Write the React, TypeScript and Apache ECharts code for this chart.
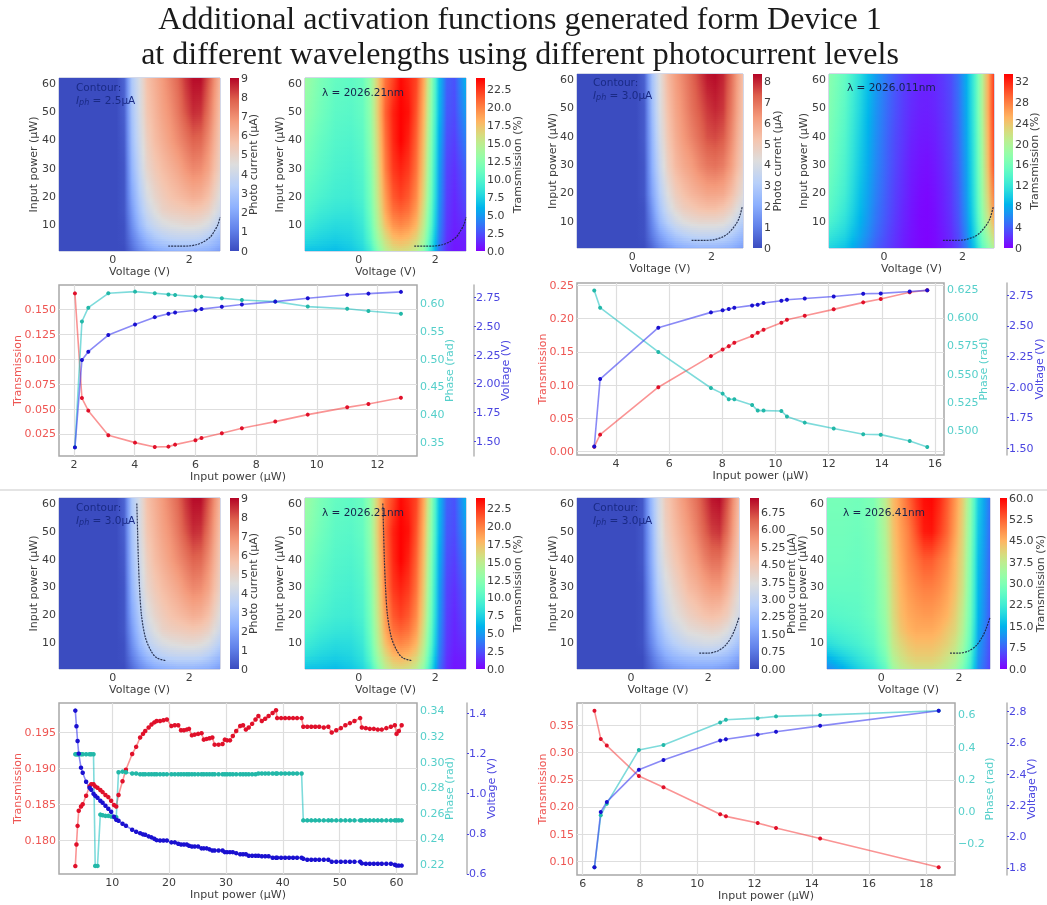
import React, { useEffect, useRef } from "react";
import * as echarts from "echarts";

// ---------- shared heat-map lattice ----------
const voltageColumns = [-1.4, -1.0, -0.6, -0.2, 0.1, 0.3, 0.5, 0.7, 0.9, 1.1, 1.3, 1.5, 1.7, 1.9, 2.1, 2.3, 2.5, 2.8];
const powerRows = [0.5, 5, 10, 15, 20, 30, 40, 50, 62];

const photoA = [
  [0, 0, 0, 0, 0, 0, 0.6, 1.2, 1.6, 1.9, 2.1, 2.2, 2.3, 2.3, 2.3, 2.2, 2.1, 1.7],
  [0, 0, 0, 0, 0, 0.1, 1, 1.8, 2.5, 3, 3.3, 3.5, 3.6, 3.6, 3.6, 3.5, 3.2, 2.5],
  [0, 0, 0, 0, 0, 0.1, 1.4, 2.5, 3.4, 3.9, 4.3, 4.5, 4.6, 4.7, 4.7, 4.6, 4.3, 3.4],
  [0, 0, 0, 0, 0, 0.2, 1.7, 2.9, 3.9, 4.5, 5, 5.2, 5.3, 5.4, 5.5, 5.4, 5.1, 4.1],
  [0, 0, 0, 0, 0, 0.2, 2, 3.2, 4.3, 4.9, 5.3, 5.6, 5.8, 6, 6.2, 6.1, 5.7, 4.5],
  [0, 0, 0, 0, 0, 0.2, 2.4, 3.7, 4.9, 5.4, 5.8, 6.1, 6.4, 6.8, 7.1, 7, 6.5, 5.1],
  [0, 0, 0, 0, 0, 0.3, 2.7, 4, 5.2, 5.8, 6.2, 6.6, 7, 7.4, 7.8, 7.7, 7, 5.4],
  [0, 0, 0, 0, 0, 0.4, 2.9, 4.2, 5.5, 6, 6.5, 6.9, 7.4, 8, 8.5, 8.4, 7.5, 5.7],
  [0, 0, 0, 0, 0, 0.5, 3.1, 4.3, 5.7, 6.2, 6.7, 7.2, 7.7, 8.4, 8.9, 8.9, 8, 6],
];
const transA = [
  [6.5, 6.5, 6.3, 6.8, 7.6, 9, 12, 14.5, 15.7, 16, 15.7, 14.8, 12.5, 8, 3.5, 1.3, 0.6, 0.8],
  [8, 7.5, 7.2, 7.5, 8.3, 10.2, 13.5, 16, 17.6, 18, 17.6, 16.5, 14, 9, 4, 1.5, 0.8, 1],
  [9, 8.3, 7.9, 8, 8.8, 10.8, 14.5, 17.5, 19.3, 19.8, 19.3, 18, 15, 10, 4.4, 1.7, 1, 1.5],
  [9.8, 9, 8.6, 8.5, 9.2, 11.3, 15, 18.5, 20.5, 21, 20.5, 19, 15.7, 10.5, 4.7, 1.8, 1.1, 2],
  [10.3, 9.6, 9.1, 9, 9.6, 11.6, 15.5, 19, 21.3, 22, 21.3, 19.7, 16.3, 11, 5, 1.9, 1.2, 2.4],
  [11.2, 10.3, 9.6, 9.4, 10, 12, 16, 20, 22.3, 23, 22.3, 20.5, 17, 11.5, 5.3, 2.1, 1.5, 3],
  [12, 10.8, 10, 9.8, 10.4, 12.5, 16.5, 20.5, 22.8, 24, 23, 21, 17.5, 12, 5.8, 2.4, 1.9, 4],
  [12.8, 11.4, 10.4, 10.2, 10.8, 12.8, 17, 21, 23, 24, 23.5, 21.5, 18, 12.5, 6.3, 2.7, 2.3, 5],
  [13.5, 11.8, 10.8, 10.5, 11, 13, 17, 20.5, 22, 23.8, 23, 22, 18.5, 13, 6.5, 3, 2.5, 6],
];
const photoB = [
  [0, 0, 0, 0, 0, 0, 0.5, 1.1, 1.5, 1.8, 2, 2.1, 2.2, 2.2, 2.2, 2.1, 2, 1.6],
  [0, 0, 0, 0, 0, 0.1, 0.9, 1.7, 2.3, 2.8, 3.1, 3.3, 3.4, 3.4, 3.4, 3.3, 3, 2.3],
  [0, 0, 0, 0, 0, 0.1, 1.2, 2.4, 3.2, 3.8, 4.2, 4.4, 4.5, 4.5, 4.5, 4.4, 4, 3.1],
  [0, 0, 0, 0, 0, 0.1, 1.5, 2.8, 3.8, 4.5, 4.9, 5.1, 5.3, 5.4, 5.4, 5.2, 4.8, 3.8],
  [0, 0, 0, 0, 0, 0.2, 1.8, 3.1, 4.2, 4.9, 5.3, 5.6, 5.8, 6, 6, 5.9, 5.4, 4.3],
  [0, 0, 0, 0, 0, 0.2, 2.1, 3.6, 4.8, 5.5, 5.9, 6.2, 6.6, 6.9, 7, 6.8, 6.2, 4.8],
  [0, 0, 0, 0, 0, 0.3, 2.3, 3.9, 5.1, 5.8, 6.3, 6.7, 7.1, 7.5, 7.6, 7.4, 6.6, 5],
  [0, 0, 0, 0, 0, 0.3, 2.5, 4.1, 5.3, 6, 6.5, 7, 7.4, 7.8, 8, 7.8, 6.9, 5.2],
  [0, 0, 0, 0, 0, 0.4, 2.7, 4.2, 5.5, 6.2, 6.7, 7.2, 7.7, 8.2, 8.3, 8, 7.1, 5.3],
];
const transB = [
  [10.5, 9.2, 6.6, 4, 2.7, 1.9, 1.2, 0.6, 0.2, 0.1, 0.3, 0.9, 1.6, 2.9, 5.4, 9.3, 14.5, 20],
  [12, 10.5, 7.5, 4.6, 3, 2.1, 1.3, 0.7, 0.3, 0.1, 0.4, 1, 1.8, 3.2, 6, 10.3, 16, 22.5],
  [13.5, 11.5, 8.2, 5, 3.3, 2.3, 1.5, 0.8, 0.3, 0.2, 0.5, 1.2, 2, 3.6, 6.5, 11, 17.3, 25],
  [14.5, 12.2, 8.7, 5.3, 3.5, 2.5, 1.6, 0.9, 0.4, 0.2, 0.6, 1.3, 2.2, 3.8, 6.8, 11.5, 18, 27],
  [15, 12.8, 9, 5.6, 3.7, 2.6, 1.8, 1, 0.5, 0.3, 0.7, 1.4, 2.3, 4, 7, 11.8, 18.5, 28],
  [16, 13.5, 9.6, 6, 4, 2.9, 2, 1.2, 0.8, 0.6, 1, 1.7, 2.6, 4.3, 7.3, 12.2, 19, 30],
  [16.5, 14, 10, 6.3, 4.2, 3.1, 2.3, 1.5, 1.1, 1, 1.3, 2, 2.8, 4.6, 7.6, 12.5, 19.5, 30.5],
  [17, 14.5, 10.5, 6.6, 4.5, 3.4, 2.5, 1.8, 1.4, 1.3, 1.6, 2.2, 3, 4.8, 7.8, 12.8, 20, 31],
  [17.5, 15, 11, 7, 4.8, 3.6, 2.7, 2, 1.6, 1.5, 1.8, 2.4, 3.2, 5, 8, 13, 20, 31],
];
const photoC = [
  [0, 0, 0, 0, 0, 0, 0.4, 0.8, 1.1, 1.3, 1.4, 1.5, 1.5, 1.5, 1.5, 1.4, 1.3, 1],
  [0, 0, 0, 0, 0, 0, 0.6, 1.2, 1.7, 2, 2.2, 2.3, 2.4, 2.4, 2.4, 2.3, 2.1, 1.6],
  [0, 0, 0, 0, 0, 0.1, 0.9, 1.7, 2.3, 2.7, 3, 3.2, 3.3, 3.4, 3.4, 3.3, 3, 2.3],
  [0, 0, 0, 0, 0, 0.1, 1.1, 2, 2.7, 3.2, 3.5, 3.8, 3.9, 4, 4.1, 4, 3.7, 2.9],
  [0, 0, 0, 0, 0, 0.1, 1.2, 2.3, 3.1, 3.6, 3.9, 4.2, 4.4, 4.6, 4.7, 4.6, 4.3, 3.4],
  [0, 0, 0, 0, 0, 0.1, 1.4, 2.7, 3.5, 4, 4.4, 4.8, 5, 5.3, 5.5, 5.5, 5, 3.9],
  [0, 0, 0, 0, 0, 0.2, 1.6, 3, 3.9, 4.4, 4.8, 5.2, 5.5, 5.9, 6.2, 6.2, 5.6, 4.3],
  [0, 0, 0, 0, 0, 0.2, 1.7, 3.2, 4.2, 4.7, 5.1, 5.5, 5.9, 6.4, 6.8, 6.9, 6.2, 4.6],
  [0, 0, 0, 0, 0, 0.2, 1.9, 3.3, 4.4, 4.9, 5.4, 5.8, 6.2, 6.7, 7.2, 7.3, 6.6, 4.8],
];
const transC = [
  [10, 14, 18, 21.5, 26, 33, 36.5, 38, 39, 39, 39, 38, 36.5, 34, 29, 22, 11, 5],
  [15, 18, 21, 24, 29, 36, 39, 41, 42, 42, 42, 41, 39, 37, 32, 24, 12, 5.5],
  [20, 22, 23.5, 26, 31, 38, 41, 43, 44, 44, 44, 43, 41.5, 39, 34, 26, 13, 6],
  [23, 24, 25, 27, 32, 39, 43, 45, 46, 46, 46, 45, 43, 41, 36, 27, 14, 6.5],
  [25, 25.5, 26, 28, 33, 40, 44, 46, 47, 47.5, 47.5, 46.5, 45, 42, 37, 28, 15, 7],
  [27, 27, 27, 28.5, 34, 41, 45, 47.5, 49, 50, 50, 49, 47, 44, 39, 29, 15.5, 7.5],
  [28, 28, 27.5, 29, 35, 42, 46, 49, 51, 53, 53, 51, 49, 45, 40, 30, 16, 8],
  [28.5, 28.5, 28, 29.5, 36, 43, 47, 50, 54, 58, 58.5, 55.5, 52, 47, 41, 31, 17, 8.5],
  [29, 29, 28.5, 30, 37, 44, 48, 52, 56, 59, 59.5, 57, 53, 48, 42, 32, 18, 9],
];

// ---------- dashed contours: [voltage, power] ----------
const contourA = [[1.45, 2.2], [1.75, 2.2], [2.0, 2.3], [2.2, 2.8], [2.4, 4], [2.55, 5.5], [2.65, 7.5], [2.75, 10], [2.8, 12.5]];
const contourB = [[1.5, 3.2], [1.8, 3.2], [2.05, 3.4], [2.3, 4.5], [2.45, 6], [2.6, 8.5], [2.7, 11], [2.78, 15]];
const contourC = [[0.63, 60], [0.65, 50], [0.67, 40], [0.7, 30], [0.75, 20], [0.85, 12], [1.0, 7], [1.15, 4.5], [1.4, 3.5]];
const contourD = [[1.77, 6.2], [2.0, 6.2], [2.25, 7], [2.45, 9], [2.6, 12], [2.7, 15], [2.8, 19]];

// ---------- line panels ----------
const l1Power = [2.03, 2.26, 2.47, 3.13, 4.01, 4.66, 5.11, 5.33, 6.0, 6.2, 6.87, 7.53, 8.63, 9.7, 11.0, 11.7, 12.77];
const l1Trans = [0.166, 0.061, 0.0484, 0.0237, 0.0163, 0.012, 0.0123, 0.0143, 0.0187, 0.021, 0.0257, 0.0307, 0.0374, 0.0444, 0.0517, 0.055, 0.0614];
const l1Phase = [0.341, 0.568, 0.593, 0.619, 0.622, 0.619, 0.617, 0.616, 0.613, 0.613, 0.61, 0.607, 0.604, 0.595, 0.591, 0.587, 0.582];
const l1Volt = [1.445, 2.206, 2.279, 2.424, 2.515, 2.58, 2.61, 2.62, 2.64, 2.65, 2.67, 2.69, 2.715, 2.745, 2.775, 2.785, 2.8];

const l2Power = [3.18, 3.4, 5.59, 7.57, 8.01, 8.24, 8.45, 9.12, 9.33, 9.55, 10.22, 10.43, 11.1, 12.19, 13.3, 13.96, 15.05, 15.71];
const l2Trans = [0.0075, 0.0256, 0.0969, 0.1436, 0.1536, 0.1586, 0.1636, 0.1737, 0.1787, 0.1832, 0.1938, 0.1983, 0.2043, 0.2139, 0.2244, 0.2294, 0.2395, 0.2425];
const l2Phase = [0.6244, 0.609, 0.5697, 0.5376, 0.5326, 0.5276, 0.5276, 0.5225, 0.5175, 0.5175, 0.5172, 0.5122, 0.5068, 0.5015, 0.4964, 0.4961, 0.4905, 0.4851];
const l2Volt = [1.514, 2.065, 2.485, 2.61, 2.627, 2.637, 2.648, 2.667, 2.672, 2.686, 2.705, 2.713, 2.724, 2.74, 2.762, 2.765, 2.78, 2.79];

const l3Power = [
  3.5, 3.7, 3.9, 4.1, 4.5, 4.8, 5.4, 6.0, 6.3, 6.7,
  7.0, 7.4, 7.9, 8.3, 8.8, 9.3, 9.8, 10.3, 10.7, 11.1,
  11.8, 12.4, 13.5, 14.2, 14.9, 15.4, 15.8, 16.4, 16.9, 17.4,
  17.8, 18.4, 19.0, 19.6, 20.4, 21.0, 21.6, 22.1, 22.6, 23.1,
  23.5, 24.0, 24.5, 25.1, 25.7, 26.1, 26.6, 27.1, 27.6, 28.0,
  28.7, 29.4, 29.8, 30.2, 30.7, 31.2, 31.8, 32.5, 33.0, 33.5,
  34.0, 34.6, 35.2, 35.7, 36.3, 36.9, 37.5, 38.2, 38.8, 39.0,
  39.7, 40.4, 41.1, 41.8, 42.5, 43.3, 43.6, 44.3, 45.0, 45.7,
  46.4, 47.2, 48.0, 48.6, 49.4, 50.2, 51.0, 51.8, 52.6, 53.6,
  53.9, 54.6, 55.3, 56.0, 56.7, 57.4, 58.2, 59.0, 59.7, 60.0,
  60.4, 60.9,
];
const l3Trans = [
  0.1764, 0.1794, 0.182, 0.1841, 0.1847, 0.185, 0.1862, 0.1875, 0.1878, 0.1878,
  0.1875, 0.1873, 0.187, 0.1867, 0.1863, 0.186, 0.1855, 0.1849, 0.1847, 0.1863,
  0.1882, 0.1898, 0.192, 0.193, 0.1943, 0.1948, 0.1952, 0.1957, 0.1961, 0.1964,
  0.1966, 0.1966, 0.1967, 0.1968, 0.1959, 0.196, 0.196, 0.1953, 0.1953, 0.1954,
  0.1955, 0.1946, 0.1947, 0.1948, 0.1949, 0.194, 0.1941, 0.1942, 0.1943, 0.1933,
  0.1933, 0.1934, 0.194, 0.1939, 0.1939, 0.1945, 0.1952, 0.1959, 0.196, 0.1954,
  0.1957, 0.1962, 0.1968, 0.1973, 0.1966, 0.1969, 0.1973, 0.1977, 0.1981, 0.197,
  0.197, 0.197, 0.197, 0.197, 0.197, 0.197, 0.1958, 0.1958, 0.1958, 0.1958,
  0.1958, 0.1957, 0.1958, 0.195, 0.1953, 0.1956, 0.196, 0.1963, 0.1966, 0.197,
  0.1957, 0.1956, 0.1955, 0.1955, 0.1954, 0.1954, 0.1956, 0.1958, 0.196, 0.1948,
  0.1952, 0.196,
];
const l3Phase = [
  0.306, 0.306, 0.306, 0.306, 0.306, 0.306, 0.306, 0.306, 0.306, 0.306,
  0.219, 0.219, 0.259, 0.2585, 0.258, 0.258, 0.2575, 0.257, 0.257, 0.292,
  0.2925, 0.292, 0.291, 0.291, 0.2905, 0.2905, 0.2905, 0.2905, 0.2905, 0.2905,
  0.2905, 0.2905, 0.2905, 0.2905, 0.2905, 0.2905, 0.2905, 0.2905, 0.2905, 0.2905,
  0.2905, 0.2905, 0.2905, 0.2905, 0.2905, 0.2905, 0.2905, 0.2905, 0.2905, 0.2905,
  0.2905, 0.2905, 0.2905, 0.2905, 0.2905, 0.2905, 0.2905, 0.2905, 0.2905, 0.2905,
  0.2905, 0.2905, 0.2905, 0.291, 0.291, 0.291, 0.291, 0.291, 0.291, 0.291,
  0.291, 0.291, 0.291, 0.291, 0.291, 0.291, 0.2545, 0.2545, 0.2545, 0.2545,
  0.2545, 0.2545, 0.2545, 0.2545, 0.2545, 0.2545, 0.2545, 0.2545, 0.2545, 0.2545,
  0.2545, 0.2545, 0.2545, 0.2545, 0.2545, 0.2545, 0.2545, 0.2545, 0.2545, 0.2545,
  0.2545, 0.2545,
];
const l3Volt = [
  1.415, 1.337, 1.263, 1.2, 1.13, 1.105, 1.06, 1.03, 1.02, 1.0,
  0.99, 0.98, 0.965, 0.955, 0.94, 0.925, 0.91, 0.885, 0.87, 0.865,
  0.85, 0.84, 0.82, 0.81, 0.803, 0.797, 0.795, 0.787, 0.782, 0.775,
  0.768, 0.766, 0.766, 0.766, 0.757, 0.757, 0.75, 0.746, 0.746, 0.746,
  0.74, 0.736, 0.736, 0.736, 0.727, 0.727, 0.727, 0.722, 0.716, 0.716,
  0.716, 0.716, 0.708, 0.708, 0.708, 0.708, 0.703, 0.698, 0.698, 0.698,
  0.69, 0.69, 0.69, 0.69, 0.688, 0.688, 0.688, 0.68, 0.68, 0.68,
  0.68, 0.68, 0.68, 0.68, 0.68, 0.68, 0.675, 0.67, 0.67, 0.67,
  0.67, 0.67, 0.67, 0.66, 0.66, 0.66, 0.66, 0.66, 0.66, 0.66,
  0.652, 0.65, 0.65, 0.65, 0.65, 0.65, 0.65, 0.65, 0.645, 0.641,
  0.641, 0.641,
];

const l4Power = [6.41, 6.63, 6.84, 7.96, 8.82, 10.8, 11.0, 12.11, 12.75, 14.29, 18.43];
const l4Trans = [0.377, 0.3253, 0.313, 0.2568, 0.2364, 0.1864, 0.1827, 0.1704, 0.1611, 0.142, 0.0889];
const l4Phase = [-0.345, -0.023, 0.049, 0.382, 0.413, 0.552, 0.569, 0.579, 0.59, 0.598, 0.625];
const l4Volt = [1.804, 2.158, 2.222, 2.428, 2.49, 2.614, 2.622, 2.652, 2.67, 2.708, 2.804];

// ---------- tick labels ----------
const ticksVoltageAxis = [0, 2];
const ticksPowerAxis = [10, 20, 30, 40, 50, 60];
const ticksPhoto9 = [0, 1, 2, 3, 4, 5, 6, 7, 8, 9];
const ticksPhoto8 = [0, 1, 2, 3, 4, 5, 6, 7, 8];
const ticksPhoto675 = [0, 0.75, 1.5, 2.25, 3, 3.75, 4.5, 5.25, 6, 6.75];
const ticksTrans24 = [0, 2.5, 5, 7.5, 10, 12.5, 15, 17.5, 20, 22.5];
const ticksTrans32 = [0, 4, 8, 12, 16, 20, 24, 28, 32];
const ticksTrans60 = [0, 7.5, 15, 22.5, 30, 37.5, 45, 52.5, 60];

const titleLines = [
  "Additional activation functions generated form Device 1",
  "at different wavelengths using different photocurrent levels",
];

// ---------- colour maps ----------
type RGB = [number, number, number];
const coolwarmStops: RGB[] = [
  [59, 76, 192], [98, 130, 234], [141, 176, 254], [184, 208, 249], [221, 221, 221],
  [245, 196, 173], [244, 154, 123], [222, 96, 77], [180, 4, 38],
];
function coolwarm(t: number): string {
  const p = Math.max(0, Math.min(1, t)) * (coolwarmStops.length - 1);
  const i = Math.min(Math.floor(p), coolwarmStops.length - 2);
  const f = p - i;
  const a = coolwarmStops[i];
  const b = coolwarmStops[i + 1];
  return `rgb(${Math.round(a[0] + (b[0] - a[0]) * f)},${Math.round(a[1] + (b[1] - a[1]) * f)},${Math.round(a[2] + (b[2] - a[2]) * f)})`;
}
function rainbow(t: number): string {
  const x = Math.max(0, Math.min(1, t));
  const r = Math.min(1, Math.abs(2 * x - 0.5));
  const g = Math.sin(Math.PI * x);
  const b = Math.cos((Math.PI * x) / 2);
  return `rgb(${Math.round(r * 255)},${Math.round(g * 255)},${Math.round(b * 255)})`;
}

const TICK_COLOR = "#3c3c3c";
const RED = "#ee5552";
const TEAL = "#55cfca";
const BLUE = "#4a45e0";
const FONT = "DejaVu Sans";

const grids: any[] = [];
const xAxes: any[] = [];
const yAxes: any[] = [];
const series: any[] = [];

function addHeat(cfg: {
  left: number; top: number; width: number; height: number;
  table: number[][]; zMax: number; cmap: (t: number) => string; contour: number[][];
  nameGapY: number;
}) {
  const idx = grids.length;
  const yi = yAxes.length;
  grids.push({ left: cfg.left, top: cfg.top, width: cfg.width, height: cfg.height, show: true, borderColor: "#a9b0d0", borderWidth: 1, backgroundColor: "transparent" });
  const xMin = voltageColumns[0];
  const xMax = voltageColumns[voltageColumns.length - 1];
  xAxes.push({
    gridIndex: idx, type: "value", min: xMin, max: xMax, name: "Voltage (V)", nameLocation: "middle", nameGap: 14,
    nameTextStyle: { color: TICK_COLOR, fontFamily: FONT, fontSize: 11 },
    axisLine: { show: false }, axisTick: { show: false, customValues: ticksVoltageAxis }, splitLine: { show: false },
    axisLabel: { customValues: ticksVoltageAxis, color: TICK_COLOR, fontFamily: FONT, fontSize: 11, margin: 3 },
  });
  yAxes.push({
    gridIndex: idx, type: "value", min: powerRows[0], max: powerRows[powerRows.length - 1], name: "Input power (µW)", nameLocation: "middle", nameRotate: 90, nameGap: cfg.nameGapY,
    nameMoveOverlap: false,
    nameTextStyle: { color: TICK_COLOR, fontFamily: FONT, fontSize: 11 },
    axisLine: { show: false }, axisTick: { show: false, customValues: ticksPowerAxis }, splitLine: { show: false },
    axisLabel: { customValues: ticksPowerAxis, color: TICK_COLOR, fontFamily: FONT, fontSize: 11, margin: 3 },
  });
  const table = cfg.table;
  series.push({
    type: "custom", xAxisIndex: idx, yAxisIndex: yi, silent: true, z: 1, clip: true,
    data: powerRows.map((p) => [xMin, p]),
    renderItem: (params: any, api: any) => {
      const i = params.dataIndex;
      if (i >= powerRows.length - 1) return null;
      const a = api.coord([xMin, powerRows[i]]);
      const b = api.coord([xMax, powerRows[i + 1]]);
      const h = a[1] - b[1];
      const n = Math.max(1, Math.round(h / 2));
      const children: any[] = [];
      for (let k = 0; k < n; k++) {
        const f = (k + 0.5) / n;
        const stops: any[] = [];
        for (let j = 0; j < voltageColumns.length; j++) {
          const z = table[i][j] + (table[i + 1][j] - table[i][j]) * f;
          const off = (voltageColumns[j] - xMin) / (xMax - xMin);
          stops.push({ offset: off, color: cfg.cmap(z / cfg.zMax) });
          if (j < voltageColumns.length - 1) {
            const z2 = table[i][j + 1] + (table[i + 1][j + 1] - table[i][j + 1]) * f;
            const off2 = (voltageColumns[j + 1] - xMin) / (xMax - xMin);
            stops.push({ offset: (off + off2) / 2, color: cfg.cmap((z + z2) / 2 / cfg.zMax) });
          }
        }
        const yTop = Math.round(a[1] - (h * (k + 1)) / n);
        const yBot = Math.round(a[1] - (h * k) / n);
        children.push({
          type: "rect",
          shape: { x: a[0], y: yTop, width: b[0] - a[0], height: yBot - yTop + 1 },
          style: { fill: new echarts.graphic.LinearGradient(0, 0, 1, 0, stops), stroke: null },
        });
      }
      return { type: "group", children };
    },
  });
  series.push({
    type: "line", xAxisIndex: idx, yAxisIndex: yi, data: cfg.contour, symbol: "none", z: 3, silent: true, smooth: 0.3,
    lineStyle: { color: "rgba(25,35,65,0.9)", width: 1.2, type: [2, 1] },
  });
}

function addBar(cfg: {
  left: number; top: number; width: number; height: number; zMax: number;
  cmap: (t: number) => string; ticks: number[]; digits: number; name: string; nameGap: number;
}) {
  const idx = grids.length;
  const yi = yAxes.length;
  grids.push({ left: cfg.left, top: cfg.top, width: cfg.width, height: cfg.height, show: false });
  xAxes.push({ gridIndex: idx, type: "value", min: 0, max: 1, show: false });
  yAxes.push({
    gridIndex: idx, type: "value", position: "right", min: 0, max: cfg.zMax, name: cfg.name, nameLocation: "middle", nameRotate: 90, nameGap: cfg.nameGap,
    nameMoveOverlap: false,
    nameTextStyle: { color: TICK_COLOR, fontFamily: FONT, fontSize: 11 },
    axisLine: { show: false }, axisTick: { show: false, customValues: cfg.ticks }, splitLine: { show: false },
    axisLabel: { customValues: cfg.ticks, color: TICK_COLOR, fontFamily: FONT, fontSize: 11, margin: 2, formatter: (v: number) => v.toFixed(cfg.digits) },
  });
  const stops: any[] = [];
  for (let k = 0; k <= 24; k++) stops.push({ offset: k / 24, color: cfg.cmap(1 - k / 24) });
  series.push({
    type: "custom", xAxisIndex: idx, yAxisIndex: yi, silent: true, z: 1,
    data: [[0, cfg.zMax]],
    renderItem: (_p: any, api: any) => {
      const a = api.coord([0, cfg.zMax]);
      const b = api.coord([1, 0]);
      return {
        type: "rect",
        shape: { x: a[0], y: a[1], width: b[0] - a[0], height: b[1] - a[1] },
        style: { fill: new echarts.graphic.LinearGradient(0, 0, 0, 1, stops), stroke: null },
      };
    },
  });
}

const seriesLine = (idx: number, xs: number[], ys: number[], line: string, dot: string, yIdx: number, size: number) => ({
  type: "line", xAxisIndex: idx, yAxisIndex: yIdx, data: xs.map((x, i) => [x, ys[i]]), symbol: "circle", symbolSize: size, silent: true, z: 2,
  lineStyle: { color: line, width: 1.6 }, itemStyle: { color: dot },
});

function addLines(cfg: {
  left: number; top: number; width: number; height: number;
  x: [number, number]; xTicks: number[];
  t: [number, number]; tTicks: number[]; tDigits: number; tGap: number;
  ph: [number, number]; phTicks: number[]; phDigits: number; phGap: number;
  v: [number, number]; vTicks: number[]; vDigits: number; vOffset: number; vGap: number;
  xs: number[]; ts: number[]; phs: number[]; vs: number[]; size: number;
}) {
  const idx = grids.length;
  grids.push({ left: cfg.left, top: cfg.top, width: cfg.width, height: cfg.height, show: true, borderColor: "#a8a8a8", borderWidth: 1.5, backgroundColor: "transparent" });
  xAxes.push({
    gridIndex: idx, type: "value", min: cfg.x[0], max: cfg.x[1], name: "Input power (µW)", nameLocation: "middle", nameGap: 15,
    nameTextStyle: { color: TICK_COLOR, fontFamily: FONT, fontSize: 11 },
    axisLine: { show: false }, axisTick: { show: false, customValues: cfg.xTicks },
    splitLine: { show: true, lineStyle: { color: "#dedede", width: 1.2 } },
    axisLabel: { customValues: cfg.xTicks, color: TICK_COLOR, fontFamily: FONT, fontSize: 11, margin: 3 },
  });
  const fmt = (d: number) => (v: number) => v.toFixed(d).replace("-", "\u2212");
  const yBase = { gridIndex: idx, type: "value", nameLocation: "middle", nameRotate: 90, nameMoveOverlap: false };
  const tIdx = yAxes.length;
  yAxes.push({
    ...yBase, position: "left", min: cfg.t[0], max: cfg.t[1], name: "Transmission", nameGap: cfg.tGap,
    nameTextStyle: { color: RED, fontFamily: FONT, fontSize: 11 },
    axisLine: { show: false }, axisTick: { show: false, customValues: cfg.tTicks },
    splitLine: { show: true, lineStyle: { color: "#dedede", width: 1.2 } },
    axisLabel: { customValues: cfg.tTicks, color: RED, fontFamily: FONT, fontSize: 11, margin: 3, formatter: fmt(cfg.tDigits) },
  });
  yAxes.push({
    ...yBase, position: "right", min: cfg.ph[0], max: cfg.ph[1], name: "Phase (rad)", nameGap: cfg.phGap,
    nameTextStyle: { color: TEAL, fontFamily: FONT, fontSize: 11 },
    axisLine: { show: false }, axisTick: { show: false, customValues: cfg.phTicks }, splitLine: { show: false },
    axisLabel: { customValues: cfg.phTicks, color: TEAL, fontFamily: FONT, fontSize: 11, margin: 3, formatter: fmt(cfg.phDigits) },
  });
  yAxes.push({
    ...yBase, position: "right", offset: cfg.vOffset, min: cfg.v[0], max: cfg.v[1], name: "Voltage (V)", nameGap: cfg.vGap,
    nameTextStyle: { color: BLUE, fontFamily: FONT, fontSize: 11 },
    axisLine: { show: true, onZero: false, lineStyle: { color: "#b5b5b5", width: 1.5 } },
    axisTick: { show: true, length: 2, inside: false, customValues: cfg.vTicks, lineStyle: { color: BLUE } }, splitLine: { show: false },
    axisLabel: { customValues: cfg.vTicks, color: BLUE, fontFamily: FONT, fontSize: 11, margin: 2, formatter: fmt(cfg.vDigits) },
  });
  series.push(seriesLine(idx, cfg.xs, cfg.ts, "rgba(245,60,60,0.55)", "#e0102a", tIdx, cfg.size));
  series.push(seriesLine(idx, cfg.xs, cfg.phs, "rgba(20,190,190,0.55)", "#22b8a8", tIdx + 1, cfg.size));
  series.push(seriesLine(idx, cfg.xs, cfg.vs, "rgba(60,60,240,0.6)", "#1a10d0", tIdx + 2, cfg.size));
}

// ---- panels ----
addHeat({ left: 59, top: 78, width: 161, height: 173, table: photoA, zMax: 9, cmap: coolwarm, contour: contourA, nameGapY: 20 });
addBar({ left: 230, top: 78, width: 9, height: 173, zMax: 9, cmap: coolwarm, ticks: ticksPhoto9, digits: 0, name: "Photo current (µA)", nameGap: 9 });
addHeat({ left: 305, top: 78, width: 161, height: 173, table: transA, zMax: 24.04, cmap: rainbow, contour: contourA, nameGapY: 20 });
addBar({ left: 476, top: 78, width: 9, height: 173, zMax: 24.04, cmap: rainbow, ticks: ticksTrans24, digits: 1, name: "Tramsmission (%)", nameGap: 27 });
addHeat({ left: 577, top: 74, width: 166, height: 174, table: photoB, zMax: 8.38, cmap: coolwarm, contour: contourB, nameGapY: 19 });
addBar({ left: 753, top: 74, width: 9, height: 174, zMax: 8.38, cmap: coolwarm, ticks: ticksPhoto8, digits: 0, name: "Photo current (µA)", nameGap: 10 });
addHeat({ left: 829, top: 74, width: 165, height: 174, table: transB, zMax: 33.5, cmap: rainbow, contour: contourB, nameGapY: 20 });
addBar({ left: 1004, top: 74, width: 9, height: 174, zMax: 33.5, cmap: rainbow, ticks: ticksTrans32, digits: 0, name: "Tramsmission (%)", nameGap: 16 });

addLines({
  left: 59, top: 285, width: 358, height: 171, x: [1.505, 13.3], xTicks: [2, 4, 6, 8, 10, 12],
  t: [0.0029, 0.1744], tTicks: [0.025, 0.05, 0.075, 0.1, 0.125, 0.15], tDigits: 3, tGap: 36,
  ph: [0.325, 0.634], phTicks: [0.35, 0.4, 0.45, 0.5, 0.55, 0.6], phDigits: 2, phGap: 27,
  v: [1.37, 2.86], vTicks: [1.5, 1.75, 2, 2.25, 2.5, 2.75], vDigits: 2, vOffset: 57, vGap: 26,
  xs: l1Power, ts: l1Trans, phs: l1Phase, vs: l1Volt, size: 4,
});
addLines({
  left: 577, top: 283, width: 367, height: 172, x: [2.53, 16.34], xTicks: [4, 6, 8, 10, 12, 14, 16],
  t: [-0.005, 0.2535], tTicks: [0, 0.05, 0.1, 0.15, 0.2, 0.25], tDigits: 2, tGap: 29,
  ph: [0.478, 0.631], phTicks: [0.5, 0.525, 0.55, 0.575, 0.6, 0.625], phDigits: 3, phGap: 34,
  v: [1.445, 2.85], vTicks: [1.5, 1.75, 2, 2.25, 2.5, 2.75], vDigits: 2, vOffset: 63, vGap: 27,
  xs: l2Power, ts: l2Trans, phs: l2Phase, vs: l2Volt, size: 4,
});

addHeat({ left: 59, top: 498, width: 161, height: 171, table: photoA, zMax: 9, cmap: coolwarm, contour: contourC, nameGapY: 20 });
addBar({ left: 230, top: 498, width: 9, height: 171, zMax: 9, cmap: coolwarm, ticks: ticksPhoto9, digits: 0, name: "Photo current (µA)", nameGap: 9 });
addHeat({ left: 305, top: 498, width: 161, height: 171, table: transA, zMax: 24.04, cmap: rainbow, contour: contourC, nameGapY: 20 });
addBar({ left: 476, top: 498, width: 9, height: 171, zMax: 24.04, cmap: rainbow, ticks: ticksTrans24, digits: 1, name: "Tramsmission (%)", nameGap: 27 });
addHeat({ left: 577, top: 498, width: 162, height: 171, table: photoC, zMax: 7.38, cmap: coolwarm, contour: contourD, nameGapY: 19 });
addBar({ left: 750, top: 498, width: 9, height: 171, zMax: 7.38, cmap: coolwarm, ticks: ticksPhoto675, digits: 2, name: "Photo current (µA)", nameGap: 27 });
addHeat({ left: 827, top: 498, width: 163, height: 171, table: transC, zMax: 60, cmap: rainbow, contour: contourD, nameGapY: 19 });
addBar({ left: 1000, top: 498, width: 9, height: 171, zMax: 60, cmap: rainbow, ticks: ticksTrans60, digits: 1, name: "Tramsmission (%)", nameGap: 28 });

addLines({
  left: 59, top: 703, width: 358, height: 171, x: [0.63, 63.6], xTicks: [10, 20, 30, 40, 50, 60],
  t: [0.1753, 0.1991], tTicks: [0.18, 0.185, 0.19, 0.195], tDigits: 3, tGap: 36,
  ph: [0.2127, 0.346], phTicks: [0.22, 0.24, 0.26, 0.28, 0.3, 0.32, 0.34], phDigits: 2, phGap: 27,
  v: [0.599, 1.453], vTicks: [0.6, 0.8, 1, 1.2, 1.4], vDigits: 1, vOffset: 50, vGap: 19,
  xs: l3Power, ts: l3Trans, phs: l3Phase, vs: l3Volt, size: 4.5,
});
addLines({
  left: 577, top: 703, width: 378, height: 172, x: [5.8, 19.0], xTicks: [6, 8, 10, 12, 14, 16, 18],
  t: [0.0747, 0.3914], tTicks: [0.1, 0.15, 0.2, 0.25, 0.3, 0.35], tDigits: 2, tGap: 29,
  ph: [-0.393, 0.673], phTicks: [-0.2, 0, 0.2, 0.4, 0.6], phDigits: 1, phGap: 29,
  v: [1.755, 2.854], vTicks: [1.8, 2, 2.2, 2.4, 2.6, 2.8], vDigits: 1, vOffset: 52, vGap: 19,
  xs: l4Power, ts: l4Trans, phs: l4Phase, vs: l4Volt, size: 4,
});

// ---- annotations ----
const contourNote = (x: number, y: number, current: string) => [
  { type: "text", x, y, z: 20, style: { text: "Contour:", fill: "#1a2a85", font: `10.5px ${FONT}`, textVerticalAlign: "middle" } },
  {
    type: "text", x, y: y + 13, z: 20,
    style: {
      text: `{i|I}{s|ph}{n| = ${current}}`, fill: "#1a2a85", textVerticalAlign: "middle",
      rich: {
        i: { fontStyle: "italic", fontSize: 10.5, fontFamily: FONT, fill: "#1a2a85" },
        s: { fontStyle: "italic", fontSize: 8, fontFamily: FONT, fill: "#1a2a85", verticalAlign: "bottom", padding: [5, 0, 0, 0] },
        n: { fontSize: 10.5, fontFamily: FONT, fill: "#1a2a85" },
      },
    },
  },
];
const lambdaNote = (x: number, y: number, label: string) => ({
  type: "text", x, y, z: 20, style: { text: label, fill: "#15224a", font: `10.5px ${FONT}`, textVerticalAlign: "middle" },
});

const graphics: any[] = [
  { type: "text", x: 520, y: 18, z: 20, style: { text: titleLines[0], fill: "#1a1a1a", font: '32px "Liberation Serif"', textAlign: "center", textVerticalAlign: "middle" } },
  { type: "text", x: 520, y: 53, z: 20, style: { text: titleLines[1], fill: "#1a1a1a", font: '32px "Liberation Serif"', textAlign: "center", textVerticalAlign: "middle" } },
  { type: "rect", z: 0, shape: { x: 0, y: 489, width: 1047, height: 2 }, style: { fill: "#e4e4e4" } },
  ...contourNote(76, 87, "2.5µA"),
  lambdaNote(322, 92, "λ = 2026.21nm"),
  ...contourNote(593, 82, "3.0µA"),
  lambdaNote(847, 87, "λ = 2026.011nm"),
  ...contourNote(76, 507, "3.0µA"),
  lambdaNote(322, 512, "λ = 2026.21nm"),
  ...contourNote(593, 507, "3.0µA"),
  lambdaNote(843, 512, "λ = 2026.41nm"),
];

export default function App() {
  const ref = useRef<HTMLDivElement>(null);
  useEffect(() => {
    if (!ref.current) return;
    const chart = echarts.init(ref.current, undefined, { renderer: "svg" });
    chart.setOption({
      animation: false,
      backgroundColor: "#ffffff",
      grid: grids,
      xAxis: xAxes,
      yAxis: yAxes,
      series,
      graphic: graphics,
    });
    return () => chart.dispose();
  }, []);
  return <div ref={ref} style={{ position: "absolute", left: 0, top: 0, width: 1047, height: 905, filter: "blur(0.5px)" }} />;
}
